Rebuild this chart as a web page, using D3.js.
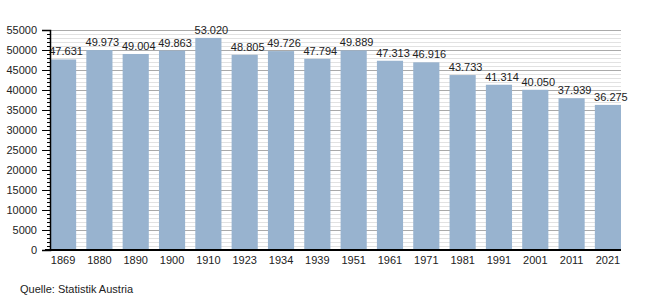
<!DOCTYPE html>
<html>
<head>
<meta charset="utf-8">
<script src="https://cdn.jsdelivr.net/npm/d3@7"></script>
<style>
 body { margin: 0; background: #fff; }
 svg text { font-family: "Liberation Sans", Arial, sans-serif; }
</style>
</head>
<body>
<script>
var years = ["1869","1880","1890","1900","1910","1923","1934","1939","1951","1961","1971","1981","1991","2001","2011","2021"];
var population = [47631,49973,49004,49863,53020,48805,49726,47794,49889,47313,46916,43733,41314,40050,37939,36275];
var yTicks = [0,5000,10000,15000,20000,25000,30000,35000,40000,45000,50000,55000];
var source = "Quelle: Statistik Austria";

var svg = d3.select("body").append("svg")
 .attr("width",650).attr("height",300);

var plotLeft = 50, plotRight = 621, plotTop = 30, plotBottom = 250;

var x = d3.scaleBand().domain(years).range([plotLeft,plotRight]).paddingInner(0.28).paddingOuter(0);
var y = d3.scaleLinear().domain([0,55000]).range([plotBottom,plotTop]);

/* minor grid every 1000, major every 5000 */
var minor = d3.range(1000,55001,1000).filter(function(d) { return d % 5000 != 0; });
svg.append("g").selectAll("line").data(minor).enter().append("line")
 .attr("x1",plotLeft).attr("x2",plotRight)
 .attr("y1",function(d) { return Math.round(y(d)) + 0.5; })
 .attr("y2",function(d) { return Math.round(y(d)) + 0.5; })
 .attr("stroke","#e2e2e2").attr("stroke-width",1);
svg.append("g").selectAll("line").data(yTicks.slice(1)).enter().append("line")
 .attr("x1",plotLeft).attr("x2",plotRight)
 .attr("y1",function(d) { return Math.round(y(d)) + 0.5; })
 .attr("y2",function(d) { return Math.round(y(d)) + 0.5; })
 .attr("stroke","#aaaaaa").attr("stroke-width",1);

/* bars */
svg.selectAll("rect.bar").data(population).enter().append("rect")
 .attr("class","bar")
 .attr("x",function(d,i) { return x(years[i]); })
 .attr("y",function(d) { return y(d); })
 .attr("width",x.bandwidth())
 .attr("height",function(d) { return plotBottom - y(d); })
 .attr("fill","#98b3cf");

/* value labels */
svg.selectAll("text.val").data(population).enter().append("text")
 .attr("class","val")
 .attr("x",function(d,i) { return x(years[i]) + x.bandwidth()/2 + 3; })
 .attr("y",function(d) { return y(d) - 4; })
 .attr("text-anchor","middle").attr("font-size",11).attr("fill","#222")
 .text(function(d) { return d3.format(",")(d).replace(",","."); });

/* y axis */
var yAxis = svg.append("g").attr("transform","translate(" + plotLeft + ",0)")
 .call(d3.axisLeft(y).tickValues(yTicks).tickSize(8).tickPadding(5).tickFormat(d3.format("d")));
yAxis.selectAll("text").attr("font-size",11).attr("fill","#222").attr("font-family","Liberation Sans, Arial, sans-serif");
yAxis.select(".domain").attr("stroke","#000").attr("stroke-width",1.5);
svg.append("g").selectAll("line").data(minor).enter().append("line")
 .attr("x1",plotLeft - 3).attr("x2",plotLeft)
 .attr("y1",function(d) { return Math.round(y(d)) + 0.5; })
 .attr("y2",function(d) { return Math.round(y(d)) + 0.5; })
 .attr("stroke","#000");

/* x axis */
var xAxis = svg.append("g").attr("transform","translate(0," + plotBottom + ")")
 .call(d3.axisBottom(x).tickSize(0).tickPadding(6));
xAxis.selectAll("text").attr("font-size",11).attr("fill","#222").attr("font-family","Liberation Sans, Arial, sans-serif");
xAxis.select(".domain").attr("stroke","#000").attr("stroke-width",2)
 .attr("d","M" + (plotLeft - 5) + ",0H" + plotRight);

svg.append("text").attr("x",20).attr("y",293).attr("font-size",11).attr("fill","#222").text(source);
</script>
</body>
</html>
